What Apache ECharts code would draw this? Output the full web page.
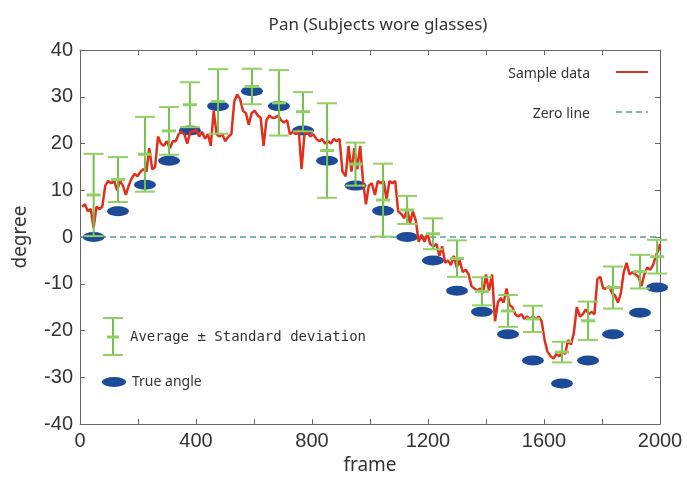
<!DOCTYPE html>
<html>
<head>
<meta charset="utf-8">
<script src="https://cdn.jsdelivr.net/npm/echarts@6/dist/echarts.min.js"></script>
<style>
html,body{margin:0;padding:0;background:#fff;}
#c{width:687px;height:480px;}
</style>
</head>
<body>
<div id="c"></div>
<script>
// ---- data ----
var titleText = 'Pan (Subjects wore glasses)';
var xTicks = [0, 400, 800, 1200, 1600, 2000];
var yTicks = [-40, -30, -20, -10, 0, 10, 20, 30, 40];

// trials: frame position, true angle, measured average, standard deviation
var trialFrames = [47, 131, 224, 307, 379, 476, 593, 686, 769, 852, 950, 1045, 1128, 1217, 1300, 1386, 1476, 1562, 1662, 1752, 1838, 1931, 1990];
var trueAngle   = [0, 5.5, 11.2, 16.3, 22.8, 28, 31.2, 28, 22.8, 16.3, 11, 5.6, 0, -5, -11.5, -16, -20.8, -26.4, -31.3, -26.4, -20.8, -16.2, -10.8];
var avgValues   = [9, 12.3, 17.7, 22.7, 28.3, 29, 32.2, 28.7, 26.8, 18.5, 15.6, 7.9, 5.8, 0.7, -4.6, -11.6, -15.8, -17.5, -24.6, -17.9, -10.8, -7.4, -4.2];
var sdValues    = [8.8, 4.8, 8, 5.1, 4.8, 6.9, 3.8, 7, 4.2, 10.1, 4.6, 7.8, 3, 3.3, 3.9, 3, 3.4, 2.8, 2.2, 4.1, 4.5, 3.6, 3.6];

// sample data (frame, degree)
var sampleFrames = [7,17,27,37,47,57,67,77,87,97,
 108,118,128,138,148,158,168,178,188,198,
 209,219,229,239,249,259,269,279,289,299,
 310,320,330,340,350,360,370,380,390,400,
 411,421,431,441,451,461,471,481,491,501,
 512,522,532,542,552,562,572,582,592,602,
 613,623,633,643,653,663,673,683,693,703,
 714,724,734,744,754,764,774,784,794,804,
 815,825,835,845,855,865,875,885,895,905,
 916,926,936,946,956,966,976,986,996,1006,
 1017,1027,1037,1047,1057,1067,1077,1087,1097,1107,
 1118,1128,1138,1148,1158,1168,1178,1188,1198,1208,
 1219,1229,1239,1249,1259,1269,1279,1289,1299,1309,
 1320,1330,1340,1350,1360,1370,1380,1390,1400,1410,
 1421,1431,1441,1451,1461,1471,1481,1491,1501,1511,
 1522,1532,1542,1552,1562,1572,1582,1592,1602,1612,
 1623,1633,1643,1653,1663,1673,1683,1693,1703,1713,
 1724,1734,1744,1754,1764,1774,1784,1794,1804,1814,
 1825,1835,1845,1855,1865,1875,1885,1895,1905,1915,
 1926,1936,1946,1956,1966,1976,1986,1996,2000];
var sampleValues = [6.5,7,5.5,6,2,6.5,6,6.5,11,12,
 11.5,12,10,12,11,9,11,12.5,13.5,13,
 14,14.5,14,19,14.5,15,21.5,20,19.5,20.5,
 19,20.5,20.5,22,22.5,22,20,22.5,22.5,23,
 21.5,22.5,21,22,19.5,27,22,21.5,22,20.5,
 21.5,22,29,30.5,29.5,27,26.5,24,26.5,27,
 26,25.5,19.5,25,26,25.5,25.5,26,25,24.5,
 25,22,22.5,22,23,14.5,22,22.5,21.5,22,
 21,20.5,21,20,20.5,20,21,20.5,21,14,
 13,19.5,14,19,14.5,19.5,12,7,11,11.5,
 9,12,11.5,12,8,12,11.5,12,5.5,5,
 4,6,3,5.5,3.5,-1,0.5,-1,0.8,-1.5,
 -2,-1.5,-4,-2,-5.5,-5,-6,-4,-6.5,-5,
 -7.5,-7,-8,-10.5,-11,-11.5,-11,-12,-8,-11.5,
 -8,-18,-14,-13,-14,-11,-14.5,-15,-16.5,-17,
 -16.5,-17.5,-17,-17.5,-17,-17.5,-17,-18,-22,-24.5,
 -25.5,-26,-25,-25.5,-24.5,-25,-22,-23,-20.5,-15,
 -17,-16.5,-15.5,-16.5,-16,-16.5,-9,-8.5,-11,-11,
 -10.5,-12,-12.5,-14,-12,-7.5,-5.5,-8,-7.5,-8,
 -8.5,-10.5,-8,-6.5,-7,-6,-4,-2.5,-1.5];

var zeroLine = [[0, 0], [2000, 0]];

// ---- build ----
var sampleData = sampleFrames.map(function (f, i) { return [f, sampleValues[i]]; });
var trueData = trialFrames.map(function (f, i) { return [f, trueAngle[i]]; });
var errData = trialFrames.map(function (f, i) { return [f, avgValues[i], sdValues[i]]; });

var RED = '#e0301c', GREEN = '#76c24e', CAP = '#93d064', BLUE = '#1c4c98', ZERO = '#5a9c9c';
var TXT = '#333';
var tickFont = "'Liberation Sans', 'Noto Sans', sans-serif";

var chart = echarts.init(document.getElementById('c'), null, {renderer: 'canvas'});

function xLabel(v) { return xTicks.indexOf(v) >= 0 ? String(v) : ''; }
function yLabel(v) { return yTicks.indexOf(v) >= 0 ? String(v) : ''; }

function axisCommon() {
  return {
    axisLine: {show: true, onZero: false, lineStyle: {color: '#666', width: 1}},
    axisTick: {show: true, inside: true, length: 5, lineStyle: {color: '#666'}},
    splitLine: {show: false}
  };
}

var option = {
  animation: false,
  backgroundColor: '#fff',
  grid: {left: 80, right: 27, top: 50, bottom: 47, containLabel: false},
  xAxis: [
    Object.assign({
      type: 'value', min: 0, max: 2000, interval: 200, position: 'bottom',
      axisLabel: {formatter: xLabel, fontSize: 20, color: TXT, margin: 7, fontFamily: tickFont},
      name: 'frame', nameLocation: 'middle', nameGap: 26,
      nameTextStyle: {fontSize: 19, color: TXT, fontFamily: "'Noto Sans', sans-serif", verticalAlign: 'top'}
    }, axisCommon()),
    Object.assign({
      type: 'value', min: 0, max: 2000, interval: 200, position: 'top',
      axisLabel: {show: false}
    }, axisCommon())
  ],
  yAxis: [
    Object.assign({
      type: 'value', min: -40, max: 40, interval: 10, position: 'left',
      axisLabel: {formatter: yLabel, fontSize: 20, color: TXT, margin: 7, fontFamily: tickFont},
      name: 'degree', nameLocation: 'middle', nameGap: 50,
      nameTextStyle: {fontSize: 19, color: TXT, fontFamily: "'Noto Sans', sans-serif"}
    }, axisCommon()),
    Object.assign({
      type: 'value', min: -40, max: 40, interval: 10, position: 'right',
      axisLabel: {show: false}
    }, axisCommon())
  ],
  series: [
    {
      name: 'Zero line', type: 'line', data: zeroLine, showSymbol: false, silent: true,
      lineStyle: {color: ZERO, width: 1.5, type: [6, 4]}, z: 1
    },
    {
      name: 'True angle', type: 'scatter', data: trueData, symbol: 'circle',
      symbolSize: [22, 10], itemStyle: {color: BLUE, opacity: 1}, z: 2
    },
    {
      name: 'Sample data', type: 'line', data: sampleData, showSymbol: false,
      lineStyle: {color: RED, width: 2.5}, z: 3
    },
    {
      name: 'Average \u00b1 Standard deviation', type: 'custom', data: errData, z: 4,
      encode: {x: 0, y: 1},
      renderItem: function (params, api) {
        var x = api.value(0), avg = api.value(1), sd = api.value(2);
        var t = api.coord([x, avg + sd]), b = api.coord([x, avg - sd]), m = api.coord([x, avg]);
        var hw = 10, mw = 7;
        return {
          type: 'group',
          children: [
            {type: 'line', shape: {x1: t[0], y1: t[1], x2: b[0], y2: b[1]}, style: {stroke: GREEN, lineWidth: 2}},
            {type: 'line', shape: {x1: t[0] - hw, y1: t[1], x2: t[0] + hw, y2: t[1]}, style: {stroke: CAP, lineWidth: 2}},
            {type: 'line', shape: {x1: b[0] - hw, y1: b[1], x2: b[0] + hw, y2: b[1]}, style: {stroke: CAP, lineWidth: 2}},
            {type: 'line', shape: {x1: m[0] - mw, y1: m[1], x2: m[0] + mw, y2: m[1]}, style: {stroke: CAP, lineWidth: 3}}
          ]
        };
      }
    }
  ],
  graphic: [
    {type: 'text', x: 378, y: 25, style: {text: titleText, font: "17px 'Noto Sans', sans-serif", fill: TXT, align: 'center', verticalAlign: 'middle'}},
    // top-right legend
    {type: 'text', x: 590, y: 74, style: {text: 'Sample data', font: "14px 'Noto Sans', sans-serif", fill: TXT, align: 'right', verticalAlign: 'middle'}},
    {type: 'line', shape: {x1: 616, y1: 72, x2: 648, y2: 72}, style: {stroke: RED, lineWidth: 2}},
    {type: 'text', x: 590, y: 114, style: {text: 'Zero line', font: "14px 'Noto Sans', sans-serif", fill: TXT, align: 'right', verticalAlign: 'middle'}},
    {type: 'line', shape: {x1: 616, y1: 112, x2: 648, y2: 112}, style: {stroke: ZERO, lineWidth: 1.5, lineDash: [6, 4]}},
    // bottom-left legend
    {type: 'line', shape: {x1: 113, y1: 318, x2: 113, y2: 355}, style: {stroke: GREEN, lineWidth: 2}},
    {type: 'line', shape: {x1: 103, y1: 318, x2: 123, y2: 318}, style: {stroke: CAP, lineWidth: 2}},
    {type: 'line', shape: {x1: 103, y1: 355, x2: 123, y2: 355}, style: {stroke: CAP, lineWidth: 2}},
    {type: 'line', shape: {x1: 107, y1: 337, x2: 119, y2: 337}, style: {stroke: CAP, lineWidth: 3}},
    {type: 'text', x: 130, y: 337, style: {text: 'Average \u00b1 Standard deviation', font: "14px 'DejaVu Sans Mono', monospace", fill: TXT, align: 'left', verticalAlign: 'middle'}},
    {type: 'circle', x: 114, y: 382, scaleX: 2.4, scaleY: 1, shape: {cx: 0, cy: 0, r: 5}, style: {fill: BLUE}},
    {type: 'text', x: 132, y: 382, style: {text: 'True angle', font: "14px 'Noto Sans', sans-serif", fill: TXT, align: 'left', verticalAlign: 'middle'}}
  ]
};
chart.setOption(option);
</script>
</body>
</html>
